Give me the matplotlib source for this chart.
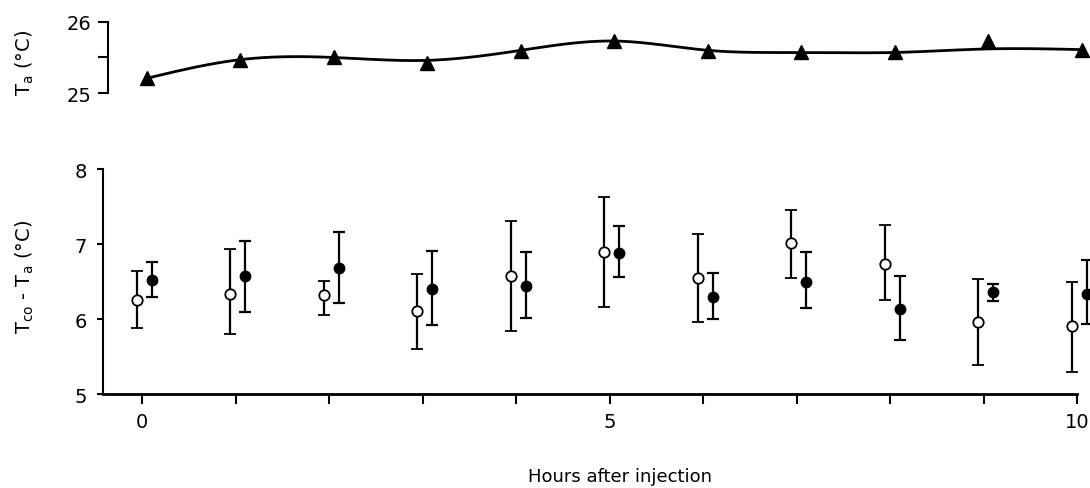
import numpy as np
import matplotlib
matplotlib.use("Agg")
import matplotlib.pyplot as plt

# hours after injection
hours = np.arange(0, 11)

# ambient temperature (triangles) and the fitted curve through them
ta = [25.21, 25.46, 25.50, 25.42, 25.59, 25.73, 25.59, 25.57, 25.57, 25.73, 25.60]
ta_fit = [25.21, 25.47, 25.50, 25.46, 25.60, 25.73, 25.60, 25.57, 25.57, 25.62, 25.61]

# Tco - Ta, open circles: mean and ends of error bars
open_mean = [6.25, 6.34, 6.32, 6.11, 6.57, 6.90, 6.55, 7.01, 6.73, 5.96, 5.91]
open_top = [6.64, 6.93, 6.51, 6.60, 7.31, 7.63, 7.14, 7.45, 7.26, 6.53, 6.50]
open_bot = [5.88, 5.80, 6.06, 5.60, 5.84, 6.16, 5.96, 6.55, 6.25, 5.39, 5.30]

# Tco - Ta, filled circles
filled_mean = [6.52, 6.57, 6.68, 6.40, 6.44, 6.88, 6.30, 6.50, 6.13, 6.36, 6.34]
filled_top = [6.76, 7.04, 7.16, 6.91, 6.89, 7.24, 6.62, 6.90, 6.57, 6.47, 6.79]
filled_bot = [6.30, 6.10, 6.21, 5.92, 6.01, 6.56, 6.00, 6.15, 5.72, 6.24, 5.94]


def natural_spline(x, y, xs):
    x = np.asarray(x, float)
    y = np.asarray(y, float)
    n = len(x)
    h = np.diff(x)
    A = np.zeros((n, n))
    r = np.zeros(n)
    A[0, 0] = A[-1, -1] = 1
    for i in range(1, n - 1):
        A[i, i - 1] = h[i - 1]
        A[i, i] = 2 * (h[i - 1] + h[i])
        A[i, i + 1] = h[i]
        r[i] = 3 * ((y[i + 1] - y[i]) / h[i] - (y[i] - y[i - 1]) / h[i - 1])
    c = np.linalg.solve(A, r)
    b = (y[1:] - y[:-1]) / h - h * (2 * c[:-1] + c[1:]) / 3
    d = (c[1:] - c[:-1]) / (3 * h)
    idx = np.clip(np.searchsorted(x, xs) - 1, 0, n - 2)
    dx = xs - x[idx]
    return y[idx] + b[idx] * dx + c[idx] * dx**2 + d[idx] * dx**3


plt.rcParams['font.family'] = 'DejaVu Sans'
plt.rcParams['mathtext.default'] = 'regular'

fig = plt.figure(figsize=(10.9, 4.89), dpi=100)

xmin, xmax = -0.42, 10.5
left = 0.0945
width = 0.9367
fs = 14

# --- top panel: ambient temperature ---
ax1 = fig.add_axes([left, 0.8072, width, 0.1464])
tx = hours + 0.05
xs = np.linspace(tx[0], tx[-1], 400)
ax1.plot(xs, natural_spline(tx, ta_fit, xs), color='black', lw=2.0)
ax1.plot(tx, ta, linestyle='none', marker='^', color='black', markersize=10,
         clip_on=False)
ax1.set_xlim(xmin, xmax)
ax1.set_ylim(25, 26)
for s in ['top', 'right', 'bottom']:
    ax1.spines[s].set_visible(False)
ax1.spines['left'].set_position(('data', -0.37))
ax1.spines['left'].set_linewidth(1.5)
ax1.set_xticks([])
ax1.set_yticks([25, 25.5, 26])
ax1.set_yticklabels(['25', '', '26'])
ax1.tick_params(axis='y', length=7, width=1.5, pad=5, labelsize=fs)

# --- bottom panel: Tco - Ta ---
ax2 = fig.add_axes([left, 0.1922, width, 0.4601])
ax2.errorbar(hours - 0.06, open_mean,
             yerr=[np.subtract(open_mean, open_bot), np.subtract(open_top, open_mean)],
             fmt='o', mfc='white', mec='black', mew=1.3, ms=7.5, color='black',
             ecolor='black', elinewidth=1.6, capsize=4, capthick=1.6, clip_on=False)
ax2.errorbar(hours + 0.1, filled_mean,
             yerr=[np.subtract(filled_mean, filled_bot), np.subtract(filled_top, filled_mean)],
             fmt='o', mfc='black', mec='black', ms=7.5, color='black',
             ecolor='black', elinewidth=1.6, capsize=4, capthick=1.6, clip_on=False)
ax2.set_xlim(xmin, xmax)
ax2.set_ylim(5, 8)
for s in ['top', 'right']:
    ax2.spines[s].set_visible(False)
ax2.spines['bottom'].set_bounds(xmin, 10)
ax2.spines['bottom'].set_linewidth(2)
ax2.spines['left'].set_linewidth(1.5)
ax2.set_xticks(hours)
ax2.set_xticklabels(['0', '', '', '', '', '5', '', '', '', '', '10'])
ax2.set_yticks([5, 6, 7, 8])
ax2.tick_params(axis='x', length=7, width=1.5, pad=6, labelsize=fs)
ax2.tick_params(axis='y', length=4.5, width=1.5, pad=7, labelsize=fs)

# axis labels
fig.text(0.023, 0.871, r'$T_a$ (°C)', rotation=90, ha='center', va='center',
         fontsize=fs)
fig.text(0.023, 0.4335, r'$T_{co}$ - $T_a$ (°C)', rotation=90, ha='center',
         va='center', fontsize=fs)
fig.text(0.569, 0.0245, 'Hours after injection', ha='center', va='center',
         fontsize=13)

fig.savefig('out.png', dpi=100)
